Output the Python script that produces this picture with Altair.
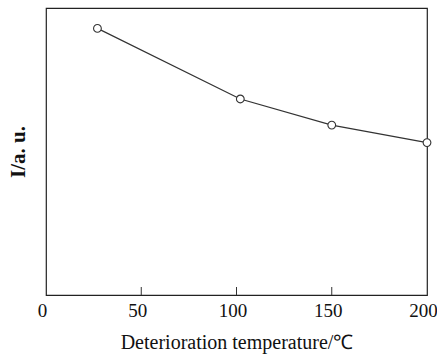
import altair as alt
import pandas as pd

# Data
temperature = [27, 102, 150, 200]
intensity = [0.929, 0.683, 0.592, 0.531]
x_ticks = [0, 50, 100, 150, 200]
inner_ticks = [50, 100, 150]

df = pd.DataFrame({"T": temperature, "I": intensity})
tick_df = pd.DataFrame({"t": inner_ticks})

x_scale = alt.Scale(domain=[0, 200], nice=False, zero=False)
y_scale = alt.Scale(domain=[0, 1], nice=False)

x_axis = alt.Axis(title="Deterioration  temperature/℃", values=x_ticks, format="d")
y_axis = alt.Axis(title="I/a. u.", labels=False)

line = alt.Chart(df).mark_line(color="#333", strokeWidth=1.2).encode(
    x=alt.X("T:Q", scale=x_scale, axis=x_axis),
    y=alt.Y("I:Q", scale=y_scale, axis=y_axis),
)
points = alt.Chart(df).mark_point(
    shape="circle", filled=True, fill="white", stroke="#333", strokeWidth=1.1, size=60, opacity=1
).encode(
    x=alt.X("T:Q", scale=x_scale, axis=x_axis),
    y=alt.Y("I:Q", scale=y_scale, axis=y_axis),
)
ticks = alt.Chart(tick_df).mark_rule(color="#333", strokeWidth=1).encode(
    x=alt.X("t:Q", scale=x_scale, axis=x_axis), y=alt.value(287), y2=alt.value(279)
)

chart = (
    alt.layer(ticks, line, points)
    .properties(
        width=381,
        height=287,
        autosize=alt.AutoSizeParams(type="none"),
        padding={"left": 46, "top": 8, "right": 10, "bottom": 60},
        background="white",
    )
    .configure_view(stroke="#222", strokeWidth=1.2)
    .configure_axis(
        ticks=False,
        domain=False,
        grid=False,
        labelFont="Liberation Serif",
        labelColor="#111",
        titleFont="Liberation Serif",
        titleColor="#111",
    )
    .configure_axisX(
        labelFontSize=19,
        labelPadding=6,
        labelOffset=-4,
        labelFlush=False,
        titleFontSize=20,
        titleFontWeight="normal",
        titlePadding=12,
    )
    .configure_axisY(
        titleFontSize=21,
        titleFontWeight="bold",
        titlePadding=18,
    )
)

chart.save("out.html", embed_options={"renderer": "svg", "actions": False})
